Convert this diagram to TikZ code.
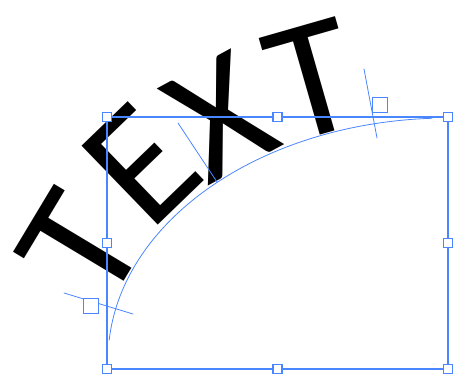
\documentclass[tikz,border=0pt]{standalone}
\usepackage{fontspec}
\setmainfont{Carlito}
\usepackage{xcolor}
\usepackage{tikz}
\definecolor{selblue}{RGB}{74,134,255}
\begin{document}
\begin{tikzpicture}[x=1pt, y=1pt, line cap=round]
\tikzset{
  handle/.style={draw=selblue, fill=white, line width=1.3pt, minimum size=9pt, inner sep=0pt},
  bighandle/.style={draw=selblue, fill=white, line width=1.3pt, minimum size=15pt, inner sep=0pt},
  glyph/.style={font=\fontsize{171}{171}\selectfont, inner sep=0pt, anchor=base}
}
\useasboundingbox (0,0) rectangle (457,374);
\def\cx{448}
\def\cy{14}
\def\rx{340}
\def\ry{242}
\node[glyph, rotate=59] (lt1) at (128,99) {T};
\node[glyph, rotate=44] (le) at (179.5,169) {E};
\node[glyph, rotate=28.5] (lx) at (246,209) {X};
\node[glyph, rotate=16] (lt2) at (328,241) {T};
\draw[selblue, line width=1.3pt] (107,5) rectangle (448,257);
\draw[selblue, line width=0.8pt] (\cx,\cy) ++(175.3:{\rx} and {\ry})
  arc[start angle=175.3, end angle=92.7, x radius=\rx, y radius=\ry];
\draw[selblue, line width=0.8pt] (64,81) -- (133,60);
\draw[selblue, line width=0.8pt] (178,251) -- (217,192);
\draw[selblue, line width=0.8pt] (364,305) -- (377,236);
\node[bighandle] (pstart) at (91,68) {};
\node[bighandle] (pend) at (380,269) {};
\node[handle] (nw) at (107,257) {};
\node[handle] (n) at (277.5,257) {};
\node[handle] (ne) at (448,257) {};
\node[handle] (w) at (107,131) {};
\node[handle] (e) at (448,131) {};
\node[handle] (sw) at (107,5) {};
\node[handle] (s) at (277.5,5) {};
\node[handle] (se) at (448,5) {};
\end{tikzpicture}
\end{document}
